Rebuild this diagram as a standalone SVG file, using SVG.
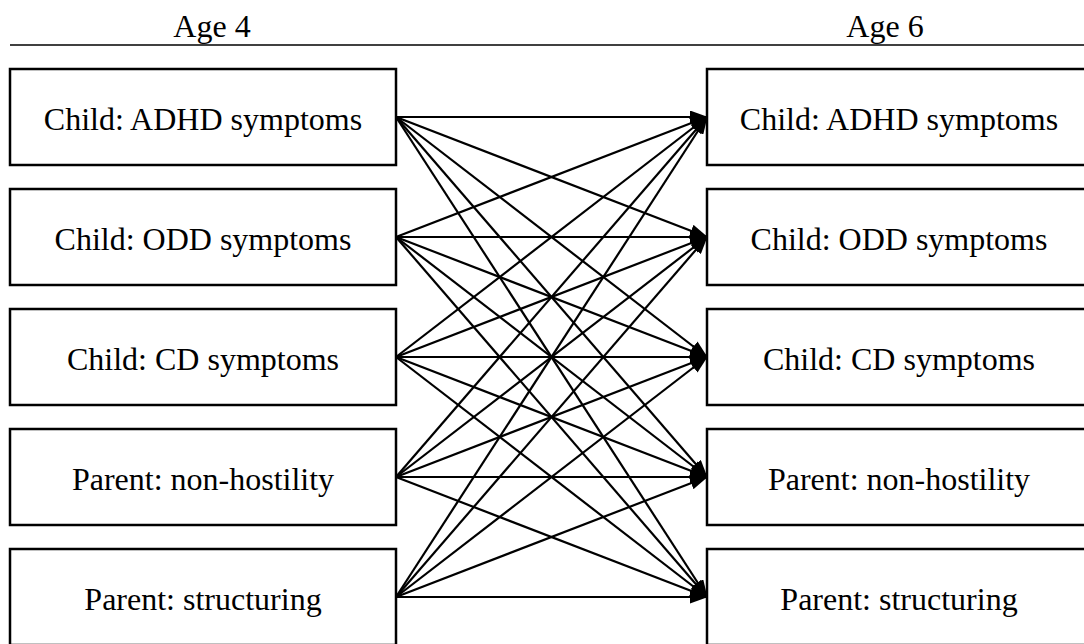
<svg xmlns="http://www.w3.org/2000/svg" width="1084" height="644" viewBox="0 0 1084 644">
<style>
.box{fill:#fff;stroke:#000;stroke-width:2.5}
.lbl{font-family:"Liberation Serif","Times New Roman",serif;font-size:32px;fill:#000;text-anchor:middle}
.hdr{font-family:"Liberation Serif","Times New Roman",serif;font-size:32px;fill:#000;text-anchor:middle}
.c{stroke:#000;stroke-width:2.2;fill:none;marker-end:url(#ah)}
</style>
<defs>
<marker id="ah" markerUnits="userSpaceOnUse" markerWidth="18" markerHeight="13" refX="17" refY="6.5" orient="auto">
<path d="M0,0 L18,6.5 L0,13 z" fill="#000"/>
</marker>
</defs>
<rect width="1084" height="644" fill="#fff"/>
<g id="header">
<text class="hdr" x="212" y="37">Age 4</text>
<text class="hdr" x="885" y="37">Age 6</text>
<line x1="10" y1="45" x2="1084" y2="45" stroke="#000" stroke-width="1.5"/>
</g>
<g id="l1"><rect class="box" x="10" y="69" width="386" height="96"/><text class="lbl" x="203" y="130">Child: ADHD symptoms</text></g>
<g id="l2"><rect class="box" x="10" y="189" width="386" height="96"/><text class="lbl" x="203" y="250">Child: ODD symptoms</text></g>
<g id="l3"><rect class="box" x="10" y="309" width="386" height="96"/><text class="lbl" x="203" y="370">Child: CD symptoms</text></g>
<g id="l4"><rect class="box" x="10" y="429" width="386" height="96"/><text class="lbl" x="203" y="490">Parent: non-hostility</text></g>
<g id="l5"><rect class="box" x="10" y="549" width="386" height="96"/><text class="lbl" x="203" y="610">Parent: structuring</text></g>
<g id="r1"><rect class="box" x="707" y="69" width="386" height="96"/><text class="lbl" x="899" y="130">Child: ADHD symptoms</text></g>
<g id="r2"><rect class="box" x="707" y="189" width="386" height="96"/><text class="lbl" x="899" y="250">Child: ODD symptoms</text></g>
<g id="r3"><rect class="box" x="707" y="309" width="386" height="96"/><text class="lbl" x="899" y="370">Child: CD symptoms</text></g>
<g id="r4"><rect class="box" x="707" y="429" width="386" height="96"/><text class="lbl" x="899" y="490">Parent: non-hostility</text></g>
<g id="r5"><rect class="box" x="707" y="549" width="386" height="96"/><text class="lbl" x="899" y="610">Parent: structuring</text></g>
<g id="connectors">
<line class="c" x1="396" y1="117" x2="707" y2="117"/>
<line class="c" x1="396" y1="117" x2="707" y2="237"/>
<line class="c" x1="396" y1="117" x2="707" y2="357"/>
<line class="c" x1="396" y1="117" x2="707" y2="477"/>
<line class="c" x1="396" y1="117" x2="707" y2="597"/>
<line class="c" x1="396" y1="237" x2="707" y2="117"/>
<line class="c" x1="396" y1="237" x2="707" y2="237"/>
<line class="c" x1="396" y1="237" x2="707" y2="357"/>
<line class="c" x1="396" y1="237" x2="707" y2="477"/>
<line class="c" x1="396" y1="237" x2="707" y2="597"/>
<line class="c" x1="396" y1="357" x2="707" y2="117"/>
<line class="c" x1="396" y1="357" x2="707" y2="237"/>
<line class="c" x1="396" y1="357" x2="707" y2="357"/>
<line class="c" x1="396" y1="357" x2="707" y2="477"/>
<line class="c" x1="396" y1="357" x2="707" y2="597"/>
<line class="c" x1="396" y1="477" x2="707" y2="117"/>
<line class="c" x1="396" y1="477" x2="707" y2="237"/>
<line class="c" x1="396" y1="477" x2="707" y2="357"/>
<line class="c" x1="396" y1="477" x2="707" y2="477"/>
<line class="c" x1="396" y1="477" x2="707" y2="597"/>
<line class="c" x1="396" y1="597" x2="707" y2="117"/>
<line class="c" x1="396" y1="597" x2="707" y2="237"/>
<line class="c" x1="396" y1="597" x2="707" y2="357"/>
<line class="c" x1="396" y1="597" x2="707" y2="477"/>
<line class="c" x1="396" y1="597" x2="707" y2="597"/>
</g>
</svg>
